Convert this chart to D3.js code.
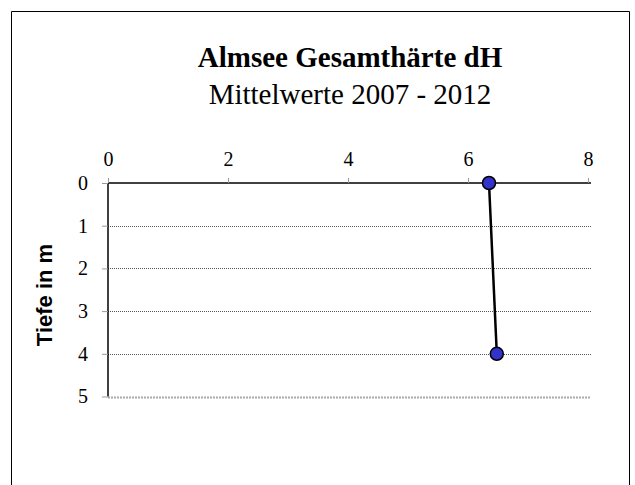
<!DOCTYPE html>
<html>
<head>
<meta charset="utf-8">
<script src="https://cdn.jsdelivr.net/npm/d3@7"></script>
<style>
  body { margin: 0; background: #fff; }
</style>
</head>
<body>
<div id="chart"></div>
<script>
// mean hardness (dH) by depth
const depths = [0, 4];
const haerte = [6.35, 6.48];
const xTicks = [0, 2, 4, 6, 8];
const yTicks = [0, 1, 2, 3, 4, 5];

const width = 635,
  height = 485;

const svg = d3
  .select("#chart")
  .append("svg")
  .attr("width", width)
  .attr("height", height);

//frame
svg.append("path")
  .attr("d", "M11.5,485 V11.5 H629.5 V485")
  .attr("fill", "none")
  .attr("stroke", "#000")
  .attr("stroke-width", 1);

const x = d3.scaleLinear().domain([0, 8]).range([108, 588]);
const y = d3.scaleLinear().domain([0, 5]).range([183, 396.5]);

//title
svg.append("text")
  .attr("x", 350).attr("y", 67)
  .attr("text-anchor", "middle")
  .style("font-family", "'Liberation Serif', 'Times New Roman', serif")
  .style("font-size", "29px")
  .style("font-weight", "bold")
  .text("Almsee Gesamthärte dH");

svg.append("text")
  .attr("x", 350).attr("y", 104)
  .attr("text-anchor", "middle")
  .style("font-family", "'Liberation Serif', 'Times New Roman', serif")
  .style("font-size", "29px")
  .text("Mittelwerte 2007 - 2012");

//gridlines
svg.selectAll(".grid")
  .data(yTicks.filter(d => d > 0))
  .enter()
  .append("line")
  .attr("x1", x(0)).attr("x2", 591)
  .attr("y1", d => Math.round(y(d)) + 0.5)
  .attr("y2", d => Math.round(y(d)) + 0.5)
  .attr("stroke", d => d === 5 ? "#aaa" : "#555")
  .attr("stroke-width", d => d === 5 ? 2 : 1)
  .attr("stroke-dasharray", d => d === 5 ? "2,1" : "1,1");

//x axis on top
const xAxis = svg.append("g")
  .attr("transform", `translate(0,${y(0)})`)
  .call(d3.axisTop(x).tickValues(xTicks).tickSize(5).tickPadding(12).tickFormat(d3.format("d")));
xAxis.select(".domain").attr("stroke", "#000").attr("stroke-width", 1.5).attr("d", `M${x(0)},0H591`);
xAxis.selectAll(".tick line").attr("stroke", "#999");
xAxis.selectAll("text")
  .style("font-family", "'Liberation Serif', 'Times New Roman', serif")
  .style("font-size", "20px")
  .attr("fill", "#000");

//y axis
const yAxis = svg.append("g")
  .attr("transform", `translate(${x(0)},0)`)
  .call(d3.axisLeft(y).tickValues(yTicks).tickSize(6).tickPadding(14).tickFormat(d3.format("d")));
yAxis.select(".domain").attr("stroke", "#000").attr("stroke-width", 1.5).attr("d", `M0,${y(0)}V${y(5)}`);
yAxis.selectAll(".tick line").attr("stroke", "#999");
yAxis.selectAll("text")
  .style("font-family", "'Liberation Serif', 'Times New Roman', serif")
  .style("font-size", "20px")
  .attr("fill", "#000");

svg.append("text")
  .attr("transform", "translate(52,295) rotate(-90)")
  .attr("text-anchor", "middle")
  .style("font-family", "'Liberation Sans', Arial, sans-serif")
  .style("font-size", "22px")
  .style("font-weight", "bold")
  .text("Tiefe in m");

//line and markers
const points = depths.map((d, i) => ({ depth: d, value: haerte[i] }));

svg.append("path")
  .datum(points)
  .attr("fill", "none")
  .attr("stroke", "#000")
  .attr("stroke-width", 2.5)
  .attr("d", d3.line().x(d => x(d.value)).y(d => y(d.depth)));

svg.selectAll(".pt")
  .data(points)
  .enter()
  .append("circle")
  .attr("cx", d => x(d.value))
  .attr("cy", d => y(d.depth))
  .attr("r", 6.5)
  .attr("fill", "#3333cc")
  .attr("stroke", "#000")
  .attr("stroke-width", 1.5);
</script>
</body>
</html>
